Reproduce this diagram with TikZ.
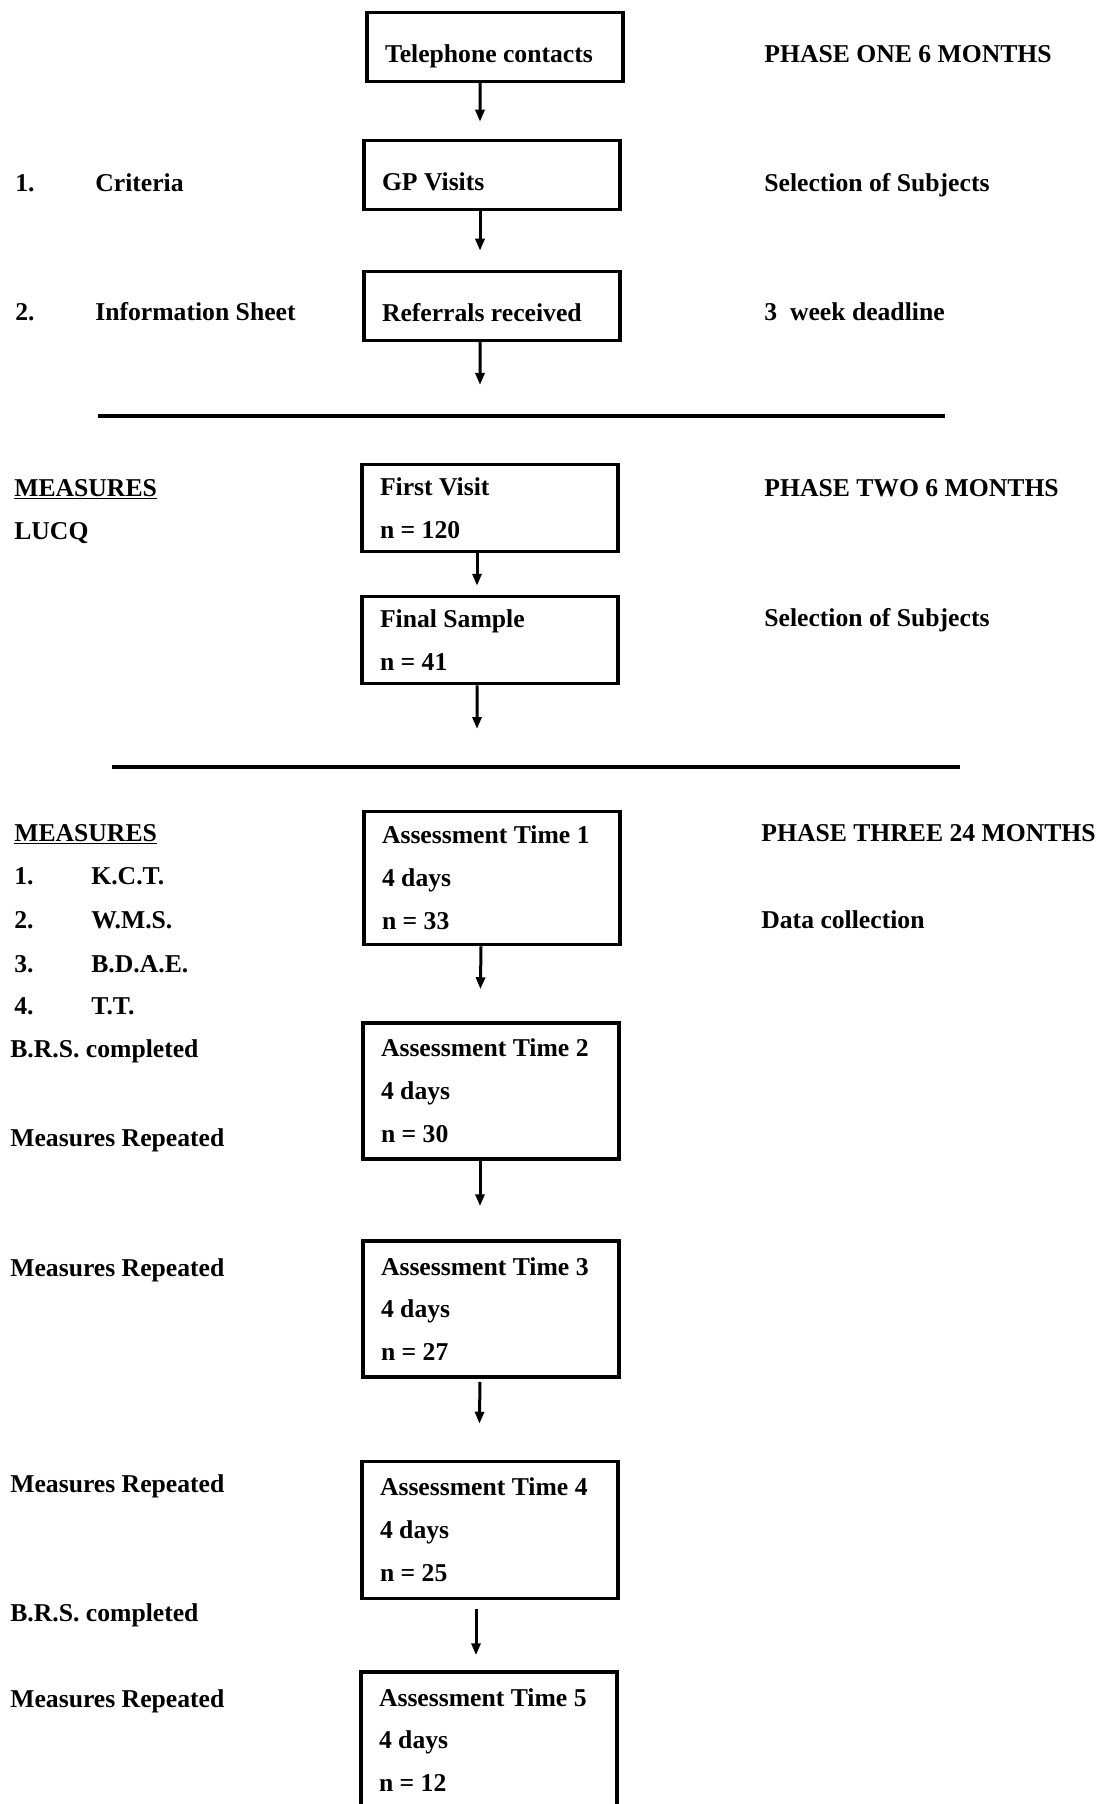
\documentclass[tikz,border=0pt]{standalone}
\usepackage{fontspec}
\setmainfont{Liberation Serif}
\usetikzlibrary{arrows.meta}

\begin{document}
\begin{tikzpicture}[x=0.2mm, y=-0.2mm,
  every node/.style={font=\fontsize{14.6}{24.4}\selectfont\bfseries, inner sep=0pt},
  stage/.style={draw, line width=0.7mm, align=flush left, text width=44mm, inner xsep=3.6mm, minimum width=51.2mm},
  single/.style={stage, text height=10.1mm, text depth=3.7mm},
  lab/.style={anchor=base west},
  flow/.style={-{Triangle[length=2.4mm, width=1.8mm]}, line width=0.6mm},
  rule/.style={line width=0.8mm}]
  \useasboundingbox (0,0) rectangle (1103,1804);

  % phase one
  \node[single] (tel) at (495,47) {Telephone contacts};
  \node[single] (gp) at (492,175) {GP Visits};
  \node[single] (ref) at (492,306) {Referrals received};
  \coordinate (ref-end) at (480,385);

  \draw[flow, shorten >=3.4mm] ([xshift=-3mm]tel.south) -- ([xshift=-2.4mm]gp.north);
  \draw[flow, shorten >=3.8mm] ([xshift=-2.4mm]gp.south) -- ([xshift=-2.4mm]ref.north);
  \draw[flow] ([xshift=-2.4mm]ref.south) -- (ref-end);

  \node[lab] (n1) at (15,192) {1.};
  \node[lab] (crit) at (95,192) {Criteria};
  \node[lab] (n2) at (15,321) {2.};
  \node[lab] (info) at (95,321) {Information Sheet};

  \node[lab] (ph1) at (764,63) {PHASE ONE 6 MONTHS};
  \node[lab] (sel1) at (764,192) {Selection of Subjects};
  \node[lab] (dead) at (764,321) {3\ \ week deadline};

  \draw[rule] (98,416) -- (945,416);

  % phase two
  \node[stage, minimum height=17.4mm] (visit) at (490,508) {First Visit\\n = 120};
  \node[stage, minimum height=17.4mm] (sample) at (490,640) {Final Sample\\n = 41};
  \coordinate (sample-end) at (477,729);

  \draw[flow, shorten >=1.8mm] ([xshift=-2.6mm]visit.south) -- ([xshift=-2.6mm]sample.north);
  \draw[flow] ([xshift=-2.6mm]sample.south) -- (sample-end);

  \node[lab] (meas2) at (14,496) {\underline{MEASURES}};
  \node[lab] (lucq) at (14,539) {LUCQ};
  \node[lab] (ph2) at (764,496) {PHASE TWO 6 MONTHS};
  \node[lab] (sel2) at (764,626) {Selection of Subjects};

  \draw[rule] (112,767) -- (960,767);

  % phase three
  \node[stage, minimum height=26.6mm] (at1) at (492,878) {Assessment Time 1\\4 days\\n = 33};
  \node[stage, minimum height=27.2mm] (at2) at (491,1091) {Assessment Time 2\\4 days\\n = 30};
  \node[stage, minimum height=27.2mm] (at3) at (491,1309) {Assessment Time 3\\4 days\\n = 27};
  \node[stage, minimum height=27.4mm] (at4) at (490,1530) {Assessment Time 4\\4 days\\n = 25};
  \node[stage, minimum height=27.2mm] (at5) at (489,1740) {Assessment Time 5\\4 days\\n = 12};

  \draw[flow, shorten >=6.4mm] ([xshift=-2.2mm]at1.south) -- ([xshift=-2.2mm]at2.north);
  \draw[flow, shorten >=6.6mm] ([xshift=-2.2mm]at2.south) -- ([xshift=-2.2mm]at3.north);
  \draw[flow, shorten <=0.6mm, shorten >=7.2mm] ([xshift=-2.2mm]at3.south) -- ([xshift=-2.2mm]at4.north);
  \draw[flow, shorten <=1.8mm, shorten >=3mm] ([xshift=-2.8mm]at4.south) -- ([xshift=-2.6mm]at5.north);

  \node[lab] (meas3) at (14,841) {\underline{MEASURES}};
  \node[lab] (m1) at (14,884) {1.};
  \node[lab] (kct) at (91,884) {K.C.T.};
  \node[lab] (m2) at (14,928) {2.};
  \node[lab] (wms) at (91,928) {W.M.S.};
  \node[lab] (m3) at (14,972) {3.};
  \node[lab] (bdae) at (91,972) {B.D.A.E.};
  \node[lab] (m4) at (14,1014) {4.};
  \node[lab] (tt) at (91,1014) {T.T.};
  \node[lab] (brs1) at (10,1057) {B.R.S. completed};
  \node[lab] (rep1) at (10,1146) {Measures Repeated};
  \node[lab] (rep2) at (10,1276) {Measures Repeated};
  \node[lab] (rep3) at (10,1492) {Measures Repeated};
  \node[lab] (brs2) at (10,1621) {B.R.S. completed};
  \node[lab] (rep4) at (10,1707) {Measures Repeated};

  \node[lab] (ph3) at (761,841) {PHASE THREE 24 MONTHS};
  \node[lab] (data) at (761,928) {Data collection};
\end{tikzpicture}
\end{document}
